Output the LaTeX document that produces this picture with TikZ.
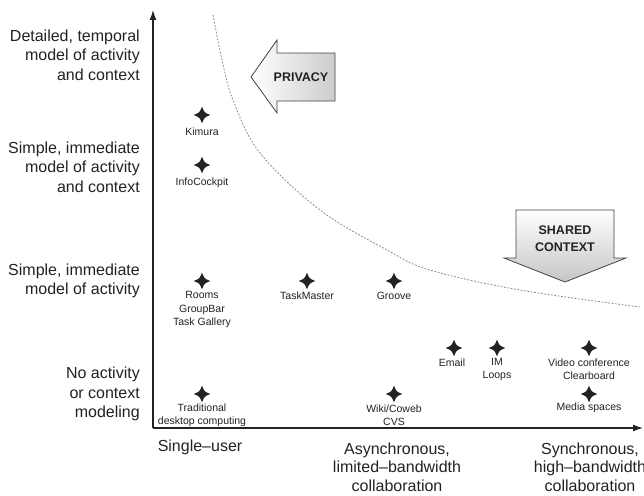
\documentclass[tikz,border=0pt]{standalone}
\usepackage{fontspec}
\setmainfont{Liberation Sans}
\usetikzlibrary{arrows.meta}
\definecolor{ink}{HTML}{222222}
\definecolor{curvegray}{HTML}{8A8A8A}
\begin{document}
\begin{tikzpicture}[x=1pt,y=-1pt,
  lab/.style={font=\fontsize{16}{19.5}\selectfont, text=ink, align=right, anchor=east, inner sep=0},
  xlab/.style={font=\fontsize{16}{18.5}\selectfont, text=ink, align=center, inner sep=0},
  item/.style={font=\fontsize{10.5}{13.3}\selectfont, text=ink, align=center, inner sep=0},
  axisline/.style={line width=1.3pt, draw=ink, -{Latex[length=10pt,width=7pt]}},
  blockarrow/.style={draw=ink!85, line width=0.8pt, line join=miter},
  arrowtext/.style={font=\bfseries\fontsize{12.5}{17}\selectfont, text=ink, align=center, inner sep=0},
  curveline/.style={draw=curvegray, line width=0.8pt, dash pattern=on 1.8pt off 1.6pt},
  starmark/.pic={\fill[ink] (0,-8.3) .. controls (2.4,-2.4) .. (8.3,0) .. controls (2.4,2.4) .. (0,8.3) .. controls (-2.4,2.4) .. (-8.3,0) .. controls (-2.4,-2.4) .. cycle;}
]
\useasboundingbox (0,0) rectangle (644,495);

% axes
\coordinate (O) at (153,428);
\coordinate (ytop) at (153,10);
\coordinate (xend) at (643,428);
\draw[axisline] (O) -- (ytop);
\draw[axisline] (O) -- (xend);

% y labels
\node[lab] (y1) at (140,55) {Detailed, temporal\\model of activity\\and context};
\node[lab] (y2) at (140,167) {Simple, immediate\\model of activity\\and context};
\node[lab] (y3) at (140,281) {Simple, immediate\\model of activity};
\node[lab] (y4) at (140,394) {No activity\\or context\\modeling};

% x labels
\node[xlab] (x1) at (200,447) {Single--user};
\node[xlab] (x2) at (397,467) {Asynchronous,\\limited--bandwidth\\collaboration};
\node[xlab] (x3) at (590,467) {Synchronous,\\high--bandwidth\\collaboration};

% dotted boundary curve
\draw[curveline] plot[smooth, tension=0.6] coordinates {(213,15) (222,60) (233,100) (260,153) (320,210) (387,250) (430,270) (520,290) (640,307)};

% PRIVACY arrow
\draw[blockarrow, left color=white, right color=gray!40] (251,77) -- (277,40) -- (277,53) -- (335,53) -- (335,101) -- (277,101) -- (277,113) -- cycle;
\node[arrowtext] (privacy) at (301,77) {PRIVACY};

% SHARED CONTEXT arrow
\draw[blockarrow, top color=white, bottom color=gray!45] (516,210) -- (614,210) -- (614,258) -- (626,258) -- (565,282) -- (504,258) -- (516,258) -- cycle;
\node[arrowtext] (shared) at (565,239) {SHARED\\CONTEXT};

% items
\pic (kimura) at (202,115) {starmark};
\node[item] (kimuraL) at (202,132) {Kimura};
\pic (info) at (202,165) {starmark};
\node[item] (infoL) at (202,183) {InfoCockpit};
\pic (rooms) at (202,281) {starmark};
\node[item] (roomsL) at (202,309.5) {Rooms\\GroupBar\\Task Gallery};
\pic (trad) at (202,394) {starmark};
\node[item] (tradL) at (202,415) {Traditional\\desktop computing};
\pic (task) at (307,281) {starmark};
\node[item] (taskL) at (307,296) {TaskMaster};
\pic (groove) at (394,281) {starmark};
\node[item] (grooveL) at (394,296) {Groove};
\pic (email) at (454,348) {starmark};
\node[item] (emailL) at (452,363) {Email};
\pic (im) at (497,348) {starmark};
\node[item] (imL) at (497,369.5) {IM\\Loops};
\pic (video) at (589,348) {starmark};
\node[item] (videoL) at (589,369.5) {Video conference\\Clearboard};
\pic (media) at (589,394) {starmark};
\node[item] (mediaL) at (589,408) {Media spaces};
\pic (wiki) at (394,394) {starmark};
\node[item] (wikiL) at (394,415) {Wiki/Coweb\\CVS};
\end{tikzpicture}
\end{document}
